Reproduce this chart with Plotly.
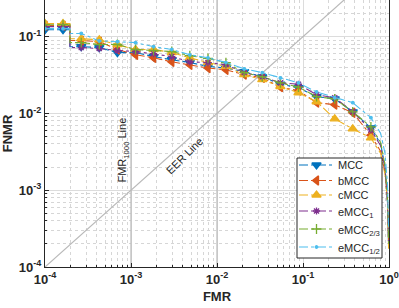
import plotly.graph_objects as go

# ---- data ----
FMR_MARKERS = [1.0e-4, 1.62e-4, 2.64e-4, 4.28e-4, 6.95e-4, 1.13e-3, 1.83e-3, 2.98e-3,
               4.83e-3, 7.85e-3, 1.27e-2, 2.07e-2, 3.36e-2, 5.46e-2, 8.86e-2, 0.144,
               0.234, 0.379, 0.616]
FMR_STEP = 1.95e-4
FMR_TAIL = [0.8, 0.9, 0.96, 0.99]

MCC = [0.123, 0.123, 0.074, 0.072, 0.062, 0.062, 0.055, 0.050, 0.046, 0.041, 0.039,
       0.035, 0.030, 0.024, 0.0216, 0.0165, 0.0155, 0.0105, 0.0065]
MCC_TAIL = [0.0040, 0.0020, 0.0007, 0.00018]

bMCC = [0.139, 0.139, 0.089, 0.086, 0.068, 0.058, 0.053, 0.047, 0.043, 0.039, 0.037,
        0.032, 0.029, 0.022, 0.0198, 0.0138, 0.013, 0.0102, 0.0052]
bMCC_TAIL = [0.0032, 0.0017, 0.0008, 0.0002]

cMCC = [0.148, 0.148, 0.094, 0.091, 0.079, 0.068, 0.068, 0.062, 0.053, 0.046, 0.041,
        0.032, 0.0275, 0.0223, 0.0186, 0.0142, 0.0085, 0.0063, 0.0048]
cMCC_TAIL = [0.0030, 0.0016, 0.0007, 0.00017]

eMCC1 = [0.135, 0.135, 0.072, 0.070, 0.066, 0.064, 0.060, 0.055, 0.047, 0.046, 0.043,
         0.034, 0.030, 0.025, 0.024, 0.0175, 0.016, 0.0105, 0.0061]
eMCC1_TAIL = [0.0038, 0.0019, 0.0007, 0.00019]

eMCC23 = [0.143, 0.143, 0.0835, 0.079, 0.079, 0.068, 0.066, 0.064, 0.0565, 0.052, 0.046,
          0.034, 0.030, 0.025, 0.022, 0.0165, 0.0155, 0.0105, 0.0067]
eMCC23_TAIL = [0.0042, 0.0021, 0.0008, 0.0002]

eMCC12 = [0.127, 0.127, 0.110, 0.088, 0.086, 0.0835, 0.074, 0.068, 0.058, 0.053, 0.046,
          0.038, 0.034, 0.029, 0.025, 0.019, 0.016, 0.0138, 0.0088]
eMCC12_TAIL = [0.0055, 0.0030, 0.0012, 0.0003]

SERIES = [
    ("MCC", MCC, MCC_TAIL, "#0072BD", "triangle-down", 8),
    ("bMCC", bMCC, bMCC_TAIL, "#D95319", "triangle-left", 8),
    ("cMCC", cMCC, cMCC_TAIL, "#EDB120", "triangle-up", 8),
    ("eMCC<sub>1</sub>", eMCC1, eMCC1_TAIL, "#7E2F8E", "asterisk-open", 6),
    ("eMCC<sub>2/3</sub>", eMCC23, eMCC23_TAIL, "#77AC30", "cross-thin-open", 7),
    ("eMCC<sub>1/2</sub>", eMCC12, eMCC12_TAIL, "#4DBEEE", "circle", 2.5),
]

X_TICKS = [1e-4, 1e-3, 1e-2, 1e-1, 1e0]
X_TICKTEXT = ["10<sup>-4</sup>", "10<sup>-3</sup>", "10<sup>-2</sup>", "10<sup>-1</sup>", "10<sup>0</sup>"]
Y_TICKS = [1e-4, 1e-3, 1e-2, 1e-1]
Y_TICKTEXT = ["10<sup>-4</sup>", "10<sup>-3</sup>", "10<sup>-2</sup>", "10<sup>-1</sup>"]

EER_LINE = [1e-4, 1.0]
FMR1000 = 1e-3
FMR100 = 1e-2
Y_LIMITS = [1e-4, 0.3]

# ---- layout / style constants ----
W, H = 399, 308
ML, MR, MT, MB = 45, 10, 0, 41
PW, PH = W - ML - MR, H - MT - MB
# legend box geometry, in overlay-pixel coordinates (x from plot left, y from plot top)
LEG_X0, LEG_X1, LEG_Y0, LEG_Y1 = 252, 337, 158, 258
LEG_ROWS = [165, 180.5, 195, 211, 229, 247]
LEG_LINE = (254, 289)
LEG_TEXT_X = 291

GRAY = "#b9b9b9"
INK = "#262626"
FONT = "Liberation Sans"

fig = go.Figure()

# reference lines
fig.add_trace(go.Scatter(x=EER_LINE, y=EER_LINE, mode="lines",
                         line=dict(color=GRAY, width=1.2), showlegend=False, hoverinfo="skip"))
for xv in (FMR1000, FMR100):
    fig.add_trace(go.Scatter(x=[xv, xv], y=Y_LIMITS, mode="lines",
                             line=dict(color=GRAY, width=1.2), showlegend=False, hoverinfo="skip"))

for name, vals, tail, color, sym, size in SERIES:
    lx = FMR_MARKERS[:2] + [FMR_STEP, FMR_STEP] + FMR_MARKERS[2:] + FMR_TAIL
    ly = vals[:2] + [vals[1], vals[2]] + vals[2:] + tail
    fig.add_trace(go.Scatter(x=lx, y=ly, mode="lines",
                             line=dict(color=color, width=1.1, dash="dashdot"),
                             showlegend=False, hoverinfo="skip"))
    mk = dict(symbol=sym, size=size, color=color, line=dict(color=color, width=1.3))
    fig.add_trace(go.Scatter(x=FMR_MARKERS, y=vals, mode="markers", marker=mk,
                             name=name, showlegend=False))

# ---- legend (drawn on an overlay pixel axis so it can be as compact as the original) ----
fig.add_trace(go.Scatter(x=[LEG_X0, LEG_X1, LEG_X1, LEG_X0, LEG_X0],
                         y=[LEG_Y0, LEG_Y0, LEG_Y1, LEG_Y1, LEG_Y0],
                         xaxis="x2", yaxis="y2", mode="lines", fill="toself",
                         fillcolor="white", line=dict(color=INK, width=1),
                         showlegend=False, hoverinfo="skip"))
for (name, vals, tail, color, sym, size), ry in zip(SERIES, LEG_ROWS):
    fig.add_trace(go.Scatter(x=list(LEG_LINE), y=[ry, ry], xaxis="x2", yaxis="y2",
                             mode="lines", line=dict(color=color, width=1.1, dash="dashdot"),
                             showlegend=False, hoverinfo="skip"))
    fig.add_trace(go.Scatter(x=[(LEG_LINE[0] + LEG_LINE[1]) / 2], y=[ry], xaxis="x2", yaxis="y2",
                             mode="markers",
                             marker=dict(symbol=sym, size=size, color=color,
                                         line=dict(color=color, width=1.3)),
                             showlegend=False, hoverinfo="skip"))
    fig.add_annotation(x=LEG_TEXT_X, y=ry, xref="x2", yref="y2", text=name,
                       xanchor="left", yanchor="middle", showarrow=False,
                       yshift=(-2 if "<sub>" in name else 0),
                       font=dict(family=FONT, size=11, color=INK))

axis_common = dict(
    type="log", showline=True, mirror=True, linecolor=INK, linewidth=1,
    ticks="inside", ticklen=4, tickcolor=INK,
    showgrid=True, gridcolor="#dcdcdc", gridwidth=1, zeroline=False,
    tickfont=dict(family=FONT, size=13, color=INK, weight="bold"),
    minor=dict(dtick="D1", ticks="inside", ticklen=2, tickcolor=INK, showgrid=True,
               gridcolor="#d6d6d6", griddash="dot", gridwidth=1),
)

fig.update_layout(
    width=W, height=H,
    margin=dict(l=ML, r=MR, t=MT, b=MB, autoexpand=False),
    plot_bgcolor="white", paper_bgcolor="white",
    showlegend=False,
    xaxis=dict(**axis_common, range=[-4, 0], tickvals=X_TICKS, ticktext=X_TICKTEXT,
               title=dict(text="<b>FMR</b>", font=dict(family=FONT, size=13, color=INK),
                          standoff=6)),
    yaxis=dict(**axis_common, range=[-4, -0.5229], tickvals=Y_TICKS, ticktext=Y_TICKTEXT,
               title=dict(text="<b>FNMR</b>", font=dict(family=FONT, size=13, color=INK),
                          standoff=4)),
    xaxis2=dict(overlaying="x", anchor="y2", range=[0, PW], visible=False, fixedrange=True),
    yaxis2=dict(overlaying="y", anchor="x2", range=[PH, 0], visible=False, fixedrange=True),
)

fig.add_annotation(x=-3.093, y=-2.483, xref="x", yref="y", text="FMR<sub>1000</sub> Line",
                   textangle=-90, showarrow=False,
                   font=dict(family=FONT, size=11, color=INK))
fig.add_annotation(x=-2.384, y=-2.549, xref="x", yref="y", text="EER Line",
                   textangle=-45, showarrow=False,
                   font=dict(family=FONT, size=11, color=INK))

fig.write_html("out.html", config={"displayModeBar": False},
               post_script="document.body.style.margin='0';document.body.style.padding='0';")
